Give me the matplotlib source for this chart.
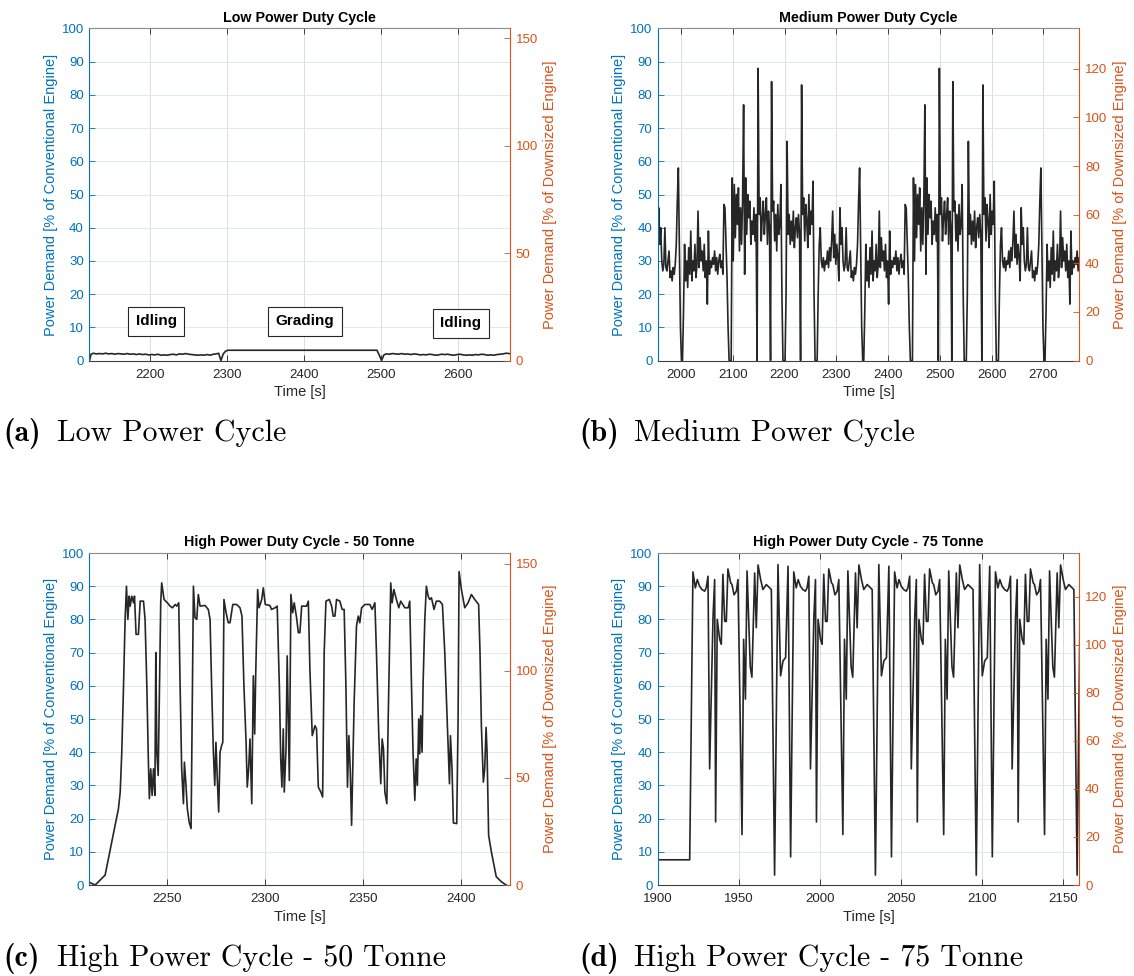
import numpy as np
import matplotlib.pyplot as plt

plt.rcParams['font.family'] = ['Liberation Sans', 'DejaVu Sans']

BLUE = '#0072BD'
ORANGE = '#D95319'
INK = '#262626'

# low power duty cycle: idling / grading / idling
low_t = [2121, 2123, 2126, 2130, 2134, 2138, 2142, 2146, 2150, 2154,
         2158, 2162, 2166, 2170, 2174, 2178, 2182, 2186, 2190, 2194,
         2198, 2202, 2206, 2210, 2214, 2218, 2222, 2226, 2230, 2234,
         2238, 2242, 2246, 2250, 2254, 2258, 2262, 2266, 2270, 2274,
         2278, 2282, 2286, 2289, 2292, 2295, 2298, 2301, 2495, 2498,
         2501, 2504, 2507, 2511, 2515, 2519, 2523, 2527, 2531, 2535,
         2539, 2543, 2547, 2551, 2555, 2559, 2563, 2567, 2571, 2575,
         2579, 2583, 2587, 2591, 2595, 2599, 2603, 2607, 2611, 2615,
         2619, 2623, 2627, 2631, 2635, 2639, 2643, 2647, 2651, 2655,
         2659, 2663, 2667, 2669]
low_p = [0.0, 1.9, 2.2, 2.0, 2.1, 2.0, 2.2, 2.0, 2.1, 1.9,
         2.1, 2.0, 1.9, 2.1, 1.9, 2.0, 1.8, 2.0, 1.8, 1.9,
         1.7, 1.8, 1.7, 1.9, 1.6, 1.7, 1.6, 1.8, 1.9, 1.7,
         2.0, 1.9, 2.1, 1.9, 1.8, 1.7, 1.6, 1.7, 1.6, 1.8,
         1.6, 1.9, 2.0, 2.2, 0.0, 2.0, 2.8, 3.1, 3.1, 1.6,
         0.0, 1.7, 2.0, 1.9, 2.1, 2.0, 1.9, 2.1, 1.9, 2.0,
         1.8, 2.0, 1.9, 1.7, 1.8, 1.7, 1.9, 1.8, 1.6, 1.7,
         1.9, 1.8, 1.9, 1.7, 1.6, 1.8, 1.9, 1.7, 1.6, 1.7,
         1.6, 1.8, 1.7, 1.9, 1.8, 1.6, 1.7, 1.6, 1.8, 1.9,
         2.0, 2.2, 2.1, 2.0]
phase_names = ['Idling', 'Grading', 'Idling']
phase_t = [2208, 2401, 2604]
phase_p = [11.8, 11.8, 11.2]

# medium power: logged every 2 s, the same 350 s loop is driven repeatedly
med_start = 1955
med_step = 2
med_loops = 3
med_loop = [24, 46, 35, 40, 30, 27, 29, 40, 28, 27,
            30, 33, 25, 27, 24, 28, 26, 29, 35, 48,
            58, 35, 10, 0, 0, 15, 35, 24, 30, 22,
            34, 26, 39, 24, 30, 27, 35, 25, 29, 45,
            28, 37, 30, 33, 27, 35, 25, 30, 17, 39,
            26, 30, 28, 31, 29, 33, 27, 31, 26, 30,
            32, 28, 30, 26, 47, 46, 35, 25, 10, 0,
            0, 0, 55, 30, 53, 37, 50, 41, 52, 33,
            46, 35, 48, 77, 26, 55, 38, 50, 43, 48,
            35, 42, 38, 46, 36, 44, 0, 88, 44, 49,
            36, 43, 48, 38, 44, 49, 35, 45, 40, 0,
            84, 45, 48, 36, 44, 33, 47, 38, 41, 53,
            20, 0, 0, 0, 20, 66, 38, 44, 35, 42,
            36, 45, 34, 40, 43, 37, 44, 38, 0, 83,
            44, 49, 36, 47, 42, 34, 50, 38, 45, 41,
            54, 20, 0, 0, 0, 20, 35, 40, 30, 28,
            31, 27, 30, 29, 33, 28, 34, 30, 36, 45,
            31, 38, 29, 35, 31]

# high power, 50 tonne
h50_t = [2210.2, 2213.1, 2218.2, 2221.6, 2225.0, 2225.9, 2226.7, 2227.6, 2228.4, 2229.1,
         2229.8, 2230.5, 2231.0, 2231.8, 2232.7, 2233.2, 2234.0, 2235.2, 2236.1, 2237.8,
         2238.6, 2239.5, 2240.3, 2240.8, 2241.5, 2242.2, 2242.9, 2243.6, 2244.1, 2244.6,
         2245.3, 2246.0, 2246.6, 2247.1, 2248.3, 2250.0, 2251.4, 2252.6, 2254.0, 2254.8,
         2255.8, 2256.5, 2257.3, 2258.2, 2258.7, 2259.5, 2260.2, 2261.1, 2262.1, 2262.8,
         2263.3, 2264.1, 2265.0, 2265.8, 2266.7, 2269.2, 2270.9, 2271.8, 2272.6, 2273.5,
         2274.2, 2274.8, 2275.5, 2276.2, 2276.9, 2277.7, 2278.3, 2278.9, 2280.0, 2281.1,
         2282.0, 2283.4, 2285.4, 2287.1, 2288.1, 2289.1, 2290.2, 2290.8, 2291.5, 2292.2,
         2293.1, 2293.9, 2294.6, 2295.1, 2296.1, 2296.8, 2298.2, 2299.0, 2300.0, 2302.4,
         2303.2, 2305.0, 2306.1, 2307.2, 2307.9, 2308.5, 2309.2, 2309.7, 2310.6, 2311.2,
         2311.8, 2312.3, 2313.1, 2314.0, 2314.8, 2316.0, 2316.9, 2317.7, 2318.6, 2321.1,
         2322.0, 2322.8, 2324.0, 2325.4, 2326.2, 2327.1, 2328.4, 2329.3, 2330.1, 2331.0,
         2332.7, 2333.9, 2334.7, 2335.6, 2336.4, 2338.1, 2339.3, 2340.3, 2341.2, 2342.0,
         2342.7, 2343.4, 2344.1, 2344.7, 2345.4, 2346.6, 2347.5, 2348.3, 2349.2, 2350.9,
         2353.4, 2354.6, 2356.0, 2356.8, 2358.0, 2359.0, 2359.7, 2360.4, 2361.1, 2362.1,
         2362.8, 2363.6, 2364.1, 2364.8, 2365.7, 2367.0, 2368.2, 2369.2, 2371.3, 2373.0,
         2373.8, 2374.7, 2375.5, 2376.4, 2377.1, 2377.7, 2378.4, 2378.9, 2379.4, 2380.1,
         2380.6, 2381.5, 2382.3, 2383.2, 2384.0, 2384.9, 2386.2, 2387.4, 2389.1, 2390.5,
         2391.7, 2392.9, 2394.1, 2394.6, 2395.4, 2396.1, 2397.8, 2398.5, 2399.0, 2400.2,
         2401.9, 2403.6, 2405.3, 2407.0, 2409.0, 2409.7, 2410.4, 2411.4, 2412.1, 2412.8,
         2413.3, 2414.1, 2415.5, 2418.0, 2420.6, 2423.1]
h50_p = [0.8, 0.0, 3.0, 13.0, 23.0, 28.0, 40.0, 60.0, 80.0, 90.0,
         80, 87, 84, 87, 85, 87, 75.5, 75.5, 85.5, 85.5,
         80, 60, 37, 26, 35, 27, 35, 27, 70, 40,
         33, 60, 85, 91, 86, 85, 84, 83.5, 84.5, 84,
         85, 60, 35, 24.5, 37, 30, 23, 19, 17, 60,
         90, 80.5, 80, 87.5, 84, 84.2, 83, 80, 60, 40,
         30, 43, 32, 22, 40, 42, 43, 86, 82, 79,
         79, 84.5, 84.5, 83.5, 81, 60, 43, 29.5, 35, 44,
         24.5, 63, 45.5, 63, 89, 83.5, 86, 89.5, 84.5, 84.2,
         83, 83.5, 84, 60, 38, 29.5, 47, 28, 41, 69,
         48, 31.5, 87.5, 82, 85, 80.5, 76, 76, 84, 84,
         85.5, 65, 45, 48, 47, 29.5, 28, 26.5, 70, 85.5,
         86, 84, 81, 81, 86, 85.5, 83, 83, 60, 29.5,
         45, 35, 18, 35, 55, 78, 81, 79, 83.5, 84.5,
         84.5, 83, 85, 70, 45, 30.5, 44, 41, 28, 24.5,
         50, 75, 91, 85, 89, 86, 83.5, 85.5, 83.5, 83.5,
         85.5, 60, 40, 25.5, 38, 30, 50, 39.5, 51, 40,
         60, 80, 90, 87, 86, 86.5, 83, 85.5, 85.5, 84.5,
         70, 50, 30.5, 45, 35, 18.7, 18.5, 50, 94.4, 89,
         83.5, 85, 87.5, 86, 84.5, 70, 48, 31, 35, 47.5,
         40, 15, 10, 2.5, 1, 0]

# high power, 75 tonne: idle start, then a 62.25 s loading loop repeated
h75_idle_t = [1900.0, 1919.6]
h75_idle_p = [7.6, 7.6]
h75_loop_start = 1921.6
h75_period = 62.25
h75_loops = 4
h75_dt = [0.0, 1.5, 2.7, 4.1, 5.6, 7.2, 8.2, 9.3, 10.3, 12.4,
          13.4, 14.0, 15.0, 16.5, 17.5, 18.5, 19.6, 20.6, 21.6, 23.3,
          24.1, 25.4, 26.8, 27.8, 30.3, 31.3, 32.4, 33.4, 35.4, 36.4,
          38.1, 39.1, 40.2, 41.8, 43.2, 45.3, 47.4, 48.4, 50.4, 52.5,
          54.1, 55.6, 57.2, 58.7, 60.3]
h75_dp = [94.3, 89.5, 92.0, 90.0, 89.0, 88.5, 89.5, 93.0, 35.0, 80.7,
          92.0, 19.0, 80.0, 74.0, 72.5, 93.6, 79.4, 79.4, 95.2, 91.0,
          90.5, 87.4, 88.5, 92.0, 15.2, 74.0, 56.0, 94.6, 65.7, 62.6,
          94.0, 77.5, 96.4, 92.0, 89.0, 90.5, 89.5, 89.0, 3.0, 96.5,
          63.0, 67.5, 68.5, 96.0, 8.5]

med_p = np.tile(med_loop, med_loops)
med_t = med_start + med_step * np.arange(len(med_p))

h75_t = np.concatenate([h75_idle_t] + [h75_loop_start + k * h75_period + np.array(h75_dt)
                                      for k in range(h75_loops)])
h75_p = np.concatenate([h75_idle_p] + [h75_dp] * h75_loops)

fig = plt.figure(figsize=(11.34, 9.76), dpi=100)


def duty_panel(rect, title, t, p, xlim, xticks, right_top, right_ticks):
    ax = fig.add_axes(rect)
    ax.plot(t, p, color=INK, lw=1.2)
    ax.set_xlim(xlim)
    ax.set_ylim(0, 100)
    ax.set_xticks(xticks)
    ax.set_yticks(np.arange(0, 101, 10))
    ax.grid(axis='x', color='#dcdcdc', lw=0.7)
    ax.grid(axis='y', color='#dde9f3', lw=0.7)
    ax.tick_params(axis='x', direction='in', top=True, length=4, width=0.6,
                   colors=INK, labelsize=9.5, pad=6)
    ax.tick_params(axis='y', direction='in', length=4, width=0.6,
                   colors=BLUE, labelsize=9.5, pad=4)
    ax.set_xlabel('Time [s]', fontsize=10.5, color=INK, labelpad=3)
    ax.set_ylabel('Power Demand [% of Conventional Engine]', fontsize=10.5,
                  color=BLUE, labelpad=3)
    ax.set_title(title, fontsize=10.3, fontweight='bold', pad=5)
    ax.spines['left'].set_color(BLUE)
    ax.spines['right'].set_visible(False)
    ax.spines['top'].set_color('#8c8c8c')
    ax.spines['bottom'].set_color('#404040')
    for s in ax.spines.values():
        s.set_linewidth(0.8)

    ax2 = ax.twinx()
    ax2.set_ylim(0, right_top)
    ax2.set_yticks(right_ticks)
    ax2.tick_params(axis='y', direction='in', length=4, width=0.6,
                    colors=ORANGE, labelsize=9.5, pad=4)
    ax2.set_ylabel('Power Demand [% of Downsized Engine]', fontsize=10.5,
                   color=ORANGE, labelpad=4)
    for side in ['left', 'top', 'bottom']:
        ax2.spines[side].set_visible(False)
    ax2.spines['right'].set_color(ORANGE)
    ax2.spines['right'].set_linewidth(0.8)
    return ax


ax_a = duty_panel([0.0789, 0.6306, 0.3708, 0.3402], 'Low Power Duty Cycle',
                  low_t, low_p, (2121, 2668), np.arange(2200, 2601, 100),
                  154.5, [0, 50, 100, 150])
for name, x, y in zip(phase_names, phase_t, phase_p):
    ax_a.text(x, y, name, ha='center', va='center', fontsize=11, fontweight='bold',
              bbox=dict(boxstyle='square,pad=0.5', fc='white', ec=INK, lw=0.8))

duty_panel([0.5802, 0.6306, 0.3717, 0.3402], 'Medium Power Duty Cycle',
           med_t, med_p, (1955.6, 2769.5), np.arange(2000, 2701, 100),
           136.6, np.arange(0, 121, 20))
duty_panel([0.0789, 0.0932, 0.3708, 0.3402], 'High Power Duty Cycle - 50 Tonne',
           h50_t, h50_p, (2210.2, 2425), np.arange(2250, 2401, 50),
           155, [0, 50, 100, 150])
duty_panel([0.5802, 0.0932, 0.3717, 0.3402], 'High Power Duty Cycle - 75 Tonne',
           h75_t, h75_p, (1900, 2160.2), np.arange(1900, 2151, 50),
           138.2, np.arange(0, 121, 20))

captions = [('(a)', 'Low Power Cycle', 0.0026, 0.0503, 0.5563),
            ('(b)', 'Medium Power Cycle', 0.5106, 0.5590, 0.5563),
            ('(c)', 'High Power Cycle - 50 Tonne', 0.0026, 0.0503, 0.0184),
            ('(d)', 'High Power Cycle - 75 Tonne', 0.5106, 0.5590, 0.0184)]
for tag, text, xt, xs, y in captions:
    fig.text(xt, y, tag, family='cmb10', fontsize=21.5, va='center')
    fig.text(xs, y, text, family='cmr10', fontsize=21.5, va='center')

fig.savefig('out.png', dpi=100)
